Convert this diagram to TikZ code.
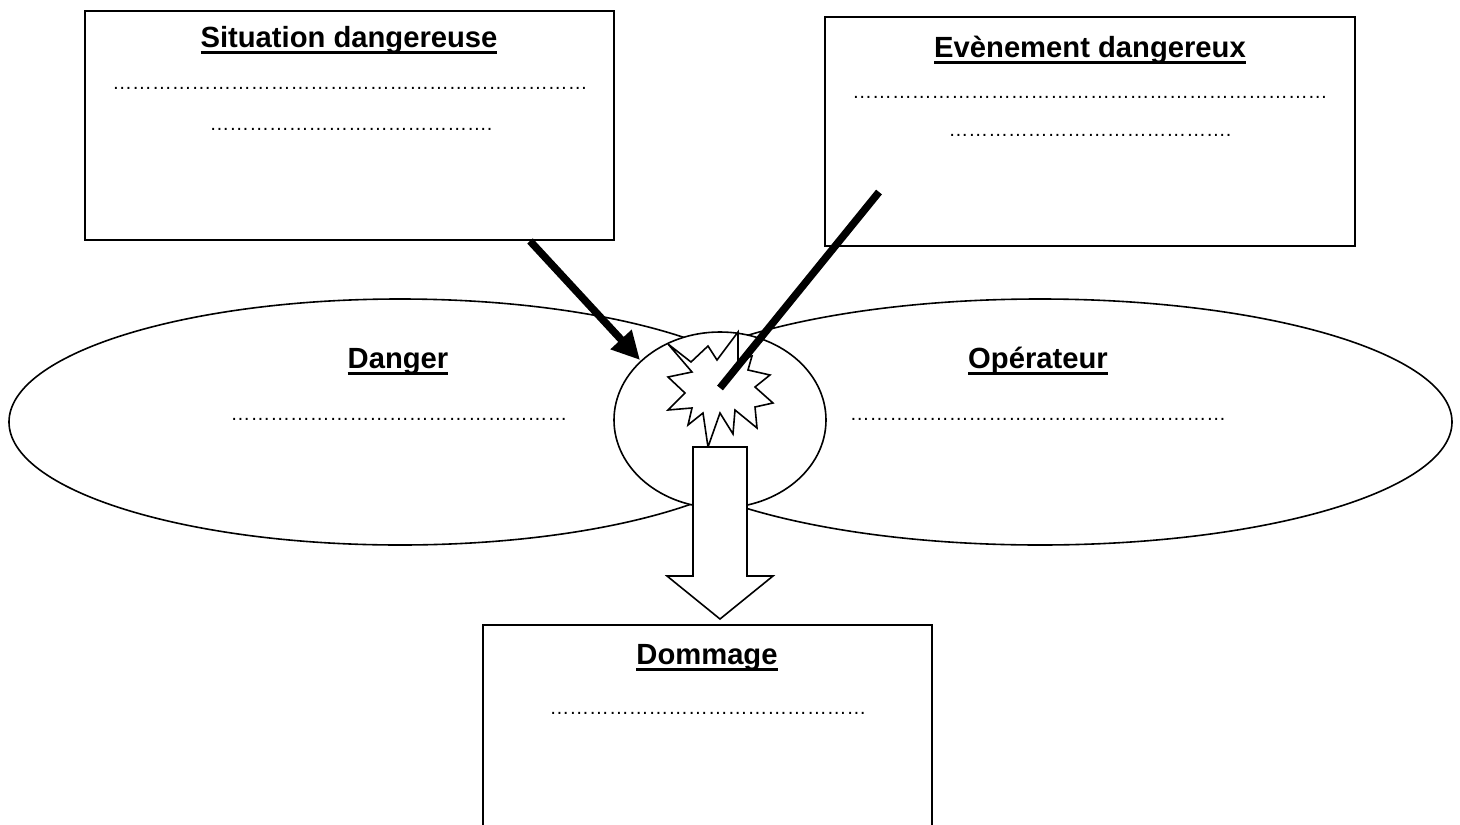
\documentclass[tikz,border=0pt]{standalone}
\usepackage{fontspec}
\setmainfont{Liberation Sans}
\usetikzlibrary{shapes.geometric,arrows.meta}
\newcount\dcnt
\newcommand\ellip[1]{\dcnt=#1\relax\loop\ifnum\dcnt>0 …\advance\dcnt by -1\repeat}
\newcommand\titul[1]{\setbox0\hbox{#1}\rlap{\raisebox{-7pt}{\rule{\wd0}{3pt}}}\box0}
\tikzset{
  titletext/.style={anchor=base,inner sep=0pt,font=\fontsize{29.2}{32}\selectfont\bfseries},
  dotstext/.style={anchor=base,inner sep=0pt,font=\fontsize{19.8}{22}\selectfont},
  bigell/.style={draw,ellipse,line width=1.6pt,inner sep=0pt},
  infobox/.style={draw,rectangle,line width=2pt,fill=white,inner sep=0pt},
  thickline/.style={line width=7.5pt,line cap=butt}
}
\begin{document}
\begin{tikzpicture}[x=1pt,y=-1pt]
\useasboundingbox (0,0) rectangle (1460,825);
\clip (0,0) rectangle (1460,825);
% big ellipses
\node[bigell,minimum width=782pt,minimum height=246pt] (danger) at (400,422) {};
\node[bigell,minimum width=824pt,minimum height=246pt] (oper) at (1040,422) {};
% central ellipse
\node[bigell,fill=white,minimum width=212pt,minimum height=176pt] (core) at (720,420) {};
% starburst
\draw[line width=1.6pt,fill=white,line join=miter]
  (668,344) -- (691,362) -- (708,346) -- (717,360) -- (738,332) -- (738,360)
  -- (752,356) -- (748,370) -- (770,375) -- (755,387) -- (773,403) -- (755,407)
  -- (757,428) -- (735,410) -- (733,434) -- (720,413) -- (708,447) -- (703,413)
  -- (688,425) -- (692,408) -- (668,410) -- (685,393) -- (668,377) -- (692,372) -- cycle;
\coordinate (burst) at (720,388);
% hollow down arrow
\draw[line width=1.6pt,fill=white,line join=miter]
  (693,447) -- (747,447) -- (747,576) -- (773,576) -- (720,619) -- (667,576) -- (693,576) -- cycle;
% boxes
\node[infobox,minimum width=529pt,minimum height=229pt] (sit) at (349.5,125.5) {};
\node[infobox,minimum width=530pt,minimum height=229pt] (evt) at (1090,131.5) {};
\node[infobox,minimum width=449pt,minimum height=240pt] (dom) at (707.5,745) {};
% connectors
\coordinate (sitout) at (530,241);
\coordinate (tip) at (640,360);
\draw[thickline,-{Triangle[length=28pt,width=27pt]}] (sitout) -- (tip);
\coordinate (evtin) at (879,192);
\draw[thickline] (evtin) -- (burst);
% texts
\node[titletext] (tsit) at (349,47) {\titul{Situation dangereuse}};
\node[dotstext] (dsit1) at (350,89) {\ellip{24}};
\node[dotstext] (dsit2) at (351,130) {\ellip{14}.};
\node[titletext] (tevt) at (1090,57) {\titul{Evènement dangereux}};
\node[dotstext] (devt1) at (1090,98) {\ellip{24}};
\node[dotstext] (devt2) at (1090,136) {\ellip{14}.};
\node[titletext] (tdan) at (398,368) {\titul{Danger}};
\node[dotstext] (ddan) at (399,420) {\ellip{17}};
\node[titletext] (tope) at (1038,368) {\titul{Opérateur}};
\node[dotstext] (dope) at (1038,420) {\ellip{19}};
\node[titletext] (tdom) at (707,664) {\titul{Dommage}};
\node[dotstext] (ddom) at (708,714) {\ellip{16}};
\end{tikzpicture}
\end{document}
